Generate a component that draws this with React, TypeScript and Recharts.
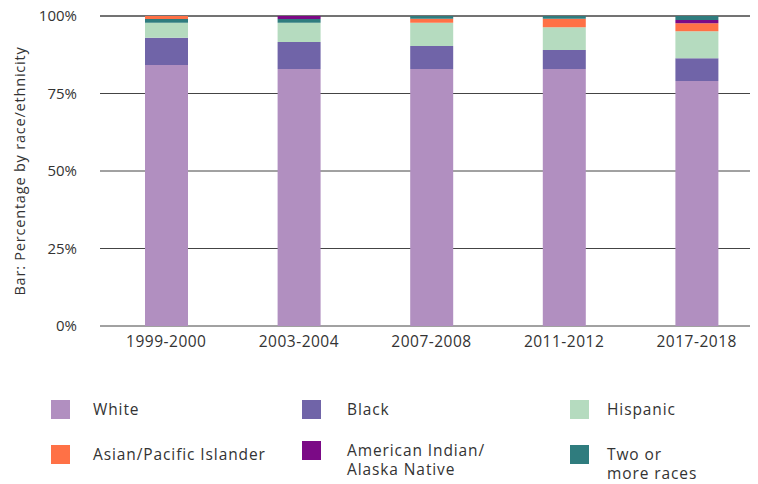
import { BarChart, Bar, XAxis, YAxis, CartesianGrid } from 'recharts';

const years = ['1999-2000', '2003-2004', '2007-2008', '2011-2012', '2017-2018'];

const white = [84.2, 82.9, 82.9, 82.9, 79.0];
const black = [8.8, 8.7, 7.4, 6.1, 7.4];
const hispanic = [4.8, 6.2, 7.5, 7.4, 8.7];
const asian = [1.0, 0, 1.3, 2.7, 2.6];
const aian = [0, 1.0, 0, 0, 1.0];
const twoOrMore = [1.2, 1.2, 0.9, 0.9, 1.3];
// in the first two surveys "two or more" sits right on top of Hispanic
const twoOrMoreBelow = [true, true, false, false, false];

const yTicks = [0, 25, 50, 75, 100];

const series = [
    { key: 'white', name: 'White', color: '#b18fc0' },
    { key: 'black', name: 'Black', color: '#7064a8' },
    { key: 'hispanic', name: 'Hispanic', color: '#b5dbbf' },
    { key: 'asian', name: 'Asian/Pacific Islander', color: '#ff7146' },
    { key: 'aian', name: 'American Indian/\nAlaska Native', color: '#7b0a86' },
    { key: 'two', name: 'Two or\nmore races', color: '#2f7c7e' },
];

const data = years.map((year, i) => ({
    year,
    white: white[i],
    black: black[i],
    hispanic: hispanic[i],
    twoLow: twoOrMoreBelow[i] ? twoOrMore[i] : 0,
    asian: asian[i],
    aian: aian[i],
    two: twoOrMoreBelow[i] ? 0 : twoOrMore[i],
}));

const colorOf = (key: string) => series.find((s) => s.key === key)!.color;

// legend grid: 3 columns, 2 rows (coords inside the wrapper)
const legendCols = [43, 294, 562];
const legendRows = [392, 437];

const Legend = () => (
    <>
        {series.map((s, i) => {
            const col = i % 3;
            const row = Math.floor(i / 3);
            return (
                <div
                    key={s.key}
                    style={{
                        position: 'absolute',
                        left: legendCols[col],
                        top: legendRows[row] + 8 - (s.key === 'aian' ? 4 : 0),
                        display: 'flex',
                        alignItems: 'flex-start',
                    }}
                >
                    <div style={{ width: 19, height: 19, background: s.color, flex: 'none' }} />
                    <div
                        style={{
                            marginLeft: col === 2 ? 18 : col === 1 ? 26 : 23,
                            fontSize: 15.5,
                            lineHeight: '19px',
                            letterSpacing: 0.9,
                            color: '#333',
                            whiteSpace: 'pre',
                        }}
                    >
                        {s.name}
                    </div>
                </div>
            );
        })}
    </>
);

export default function App() {
    return (
        <div
            style={{
                position: 'relative',
                width: 750,
                height: 484,
                marginTop: -8,
                fontFamily: '"Open Sans", sans-serif',
            }}
        >
            <BarChart width={750} height={368} data={data} margin={{ top: 16, right: 8, bottom: 12, left: 0 }}>
                <CartesianGrid vertical={false} stroke="#444" />
                <XAxis
                    dataKey="year"
                    axisLine={false}
                    tickLine={false}
                    height={30}
                    tick={{ fill: '#333', fontSize: 15.5, letterSpacing: 0.5 }}
                    padding={{ left: 0, right: -13 }}
                    tickMargin={4}
                />
                <YAxis
                    width={92}
                    domain={[0, 100]}
                    ticks={yTicks}
                    axisLine={false}
                    tickLine={false}
                    tickMargin={17}
                    tick={{ fill: '#333', fontSize: 15 }}
                    tickFormatter={(v) => `${v}%`}
                    label={{
                        value: 'Bar: Percentage by race/ethnicity',
                        angle: -90,
                        position: 'insideLeft',
                        offset: 12,
                        style: { fill: '#333', fontSize: 14.5, letterSpacing: 0.8, textAnchor: 'middle' },
                    }}
                />
                <Bar dataKey="white" stackId="a" fill={colorOf('white')} barSize={43} isAnimationActive={false} />
                <Bar dataKey="black" stackId="a" fill={colorOf('black')} barSize={43} isAnimationActive={false} />
                <Bar dataKey="hispanic" stackId="a" fill={colorOf('hispanic')} barSize={43} isAnimationActive={false} />
                <Bar dataKey="twoLow" stackId="a" fill={colorOf('two')} barSize={43} isAnimationActive={false} />
                <Bar dataKey="asian" stackId="a" fill={colorOf('asian')} barSize={43} isAnimationActive={false} />
                <Bar dataKey="aian" stackId="a" fill={colorOf('aian')} barSize={43} isAnimationActive={false} />
                <Bar dataKey="two" stackId="a" fill={colorOf('two')} barSize={43} isAnimationActive={false} />
            </BarChart>
            <Legend />
        </div>
    );
}
